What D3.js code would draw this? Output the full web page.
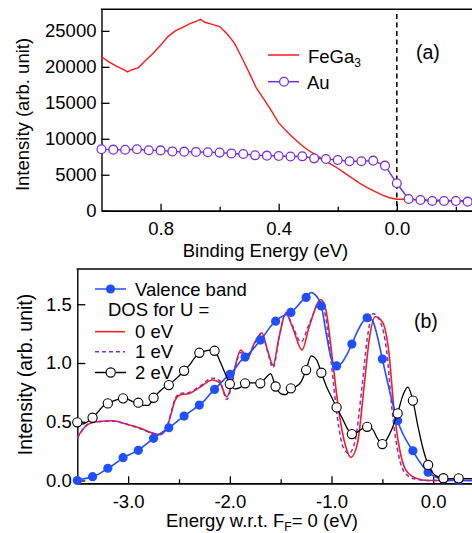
<!DOCTYPE html>
<html>
<head>
<meta charset="utf-8">
<script src="https://cdn.jsdelivr.net/npm/d3@7"></script>
<style>
body { margin: 0; background: #fff; }
svg { display: block; font-family: "Liberation Sans", Arial, sans-serif; }
</style>
</head>
<body>
<svg id="chart"></svg>
<script>
// ---- panel (a): photoemission near E_F ----
var feE = [1.0, 0.975, 0.95, 0.925, 0.912, 0.9, 0.875, 0.85, 0.825, 0.8, 0.775, 0.75, 0.725, 0.7, 0.675, 0.665, 0.65, 0.625, 0.6, 0.575,
           0.55, 0.525, 0.5, 0.475, 0.45, 0.425, 0.4, 0.375, 0.35, 0.325, 0.3, 0.275, 0.25, 0.225, 0.2, 0.175, 0.15, 0.125, 0.1, 0.075,
           0.05, 0.025, 0.0, -0.025, -0.05, -0.1, -0.15, -0.2, -0.25];
var feI = [21400, 20700, 20100, 19600, 19300, 19550, 19900, 20900, 21900, 23000, 24200, 25000, 25500, 26000, 26400, 26600, 26200, 25900, 25600, 24600,
           23300, 21300, 19200, 17000, 15500, 13900, 12200, 11100, 10100, 9200, 8400, 7800, 7100, 6500, 5900, 5200, 4500, 3800, 3200, 2700,
           2200, 1800, 1600, 1600, 1550, 1500, 1450, 1400, 1400];

var auE = [1.0, 0.96, 0.92, 0.88, 0.84, 0.8, 0.76, 0.72, 0.68, 0.64, 0.6, 0.56, 0.52, 0.48, 0.44, 0.4, 0.36, 0.32, 0.28, 0.24,
           0.2, 0.16, 0.12, 0.08, 0.04, 0.0, -0.04, -0.08, -0.12, -0.16, -0.2, -0.24];
var auI = [8540, 8490, 8470, 8540, 8400, 8380, 8240, 8210, 8170, 8120, 8080, 7960, 7890, 7700, 7650, 7610, 7540, 7560, 7280, 7190,
           7050, 6870, 6870, 6960, 6260, 3810, 1630, 1490, 1350, 1350, 1350, 1260];

var aTicks = [0.8, 0.4, 0.0];
var aMinor = [0.6, 0.2, -0.2];
var aYTicks = [0, 5000, 10000, 15000, 20000, 25000];

// ---- panel (b): valence band vs DOS ----
var gridE = [-3.5, -3.45, -3.4, -3.35, -3.3, -3.25, -3.2, -3.15, -3.1, -3.05, -3.0, -2.95, -2.9, -2.85, -2.8, -2.75, -2.7, -2.65, -2.6, -2.55,
             -2.5, -2.45, -2.4, -2.35, -2.3, -2.25, -2.2, -2.15, -2.1, -2.05, -2.0, -1.95, -1.9, -1.85, -1.8, -1.75, -1.7, -1.65, -1.6, -1.55,
             -1.5, -1.45, -1.4, -1.35, -1.3, -1.25, -1.2, -1.15, -1.1, -1.05, -1.0, -0.95, -0.9, -0.85, -0.8, -0.75, -0.7, -0.65, -0.6, -0.55,
             -0.5, -0.45, -0.4, -0.35, -0.3, -0.25, -0.2, -0.15, -0.1, -0.05, 0.0, 0.05, 0.1, 0.15, 0.2, 0.25, 0.3, 0.35, 0.4];
var vbI = [0.0, 0.012, 0.02, 0.032, 0.05, 0.075, 0.104, 0.13, 0.16, 0.194, 0.215, 0.235, 0.257, 0.29, 0.325, 0.359, 0.39, 0.42, 0.449, 0.48,
           0.515, 0.548, 0.58, 0.61, 0.642, 0.68, 0.73, 0.775, 0.82, 0.865, 0.903, 0.95, 1.01, 1.05, 1.09, 1.14, 1.195, 1.25, 1.31, 1.356,
           1.39, 1.41, 1.43, 1.47, 1.52, 1.558, 1.6, 1.57, 1.486, 1.24, 1.03, 0.975, 1.0, 1.07, 1.161, 1.26, 1.34, 1.385, 1.365, 1.23,
           1.033, 0.84, 0.66, 0.509, 0.4, 0.32, 0.253, 0.18, 0.12, 0.07, 0.04, 0.02, 0.01, 0.005, 0.003, 0.002, 0.0, 0.0, 0.0];
var u2I = [0.495, 0.48, 0.5, 0.534, 0.58, 0.63, 0.656, 0.675, 0.69, 0.699, 0.69, 0.67, 0.662, 0.64, 0.64, 0.704, 0.75, 0.79, 0.812, 0.85,
           0.89, 0.934, 0.98, 1.04, 1.087, 1.1, 1.11, 1.104, 1.02, 0.92, 0.821, 0.78, 0.79, 0.827, 0.83, 0.83, 0.827, 0.87, 0.91, 0.8,
           0.74, 0.73, 0.784, 0.8, 0.84, 0.94, 1.06, 1.03, 0.917, 0.8, 0.71, 0.622, 0.54, 0.45, 0.395, 0.41, 0.44, 0.457, 0.44, 0.36,
           0.31, 0.36, 0.45, 0.571, 0.72, 0.795, 0.68, 0.46, 0.27, 0.132, 0.06, 0.03, 0.019, 0.015, 0.015, 0.018, 0.015, 0.015, 0.015];

var u0E = [-3.5, -3.45, -3.4, -3.31, -3.15, -3.02, -2.88, -2.75, -2.69, -2.63, -2.58, -2.54, -2.49, -2.4, -2.3, -2.17, -2.1, -2.03, -1.98, -1.94,
           -1.89, -1.83, -1.76, -1.685, -1.63, -1.575, -1.515, -1.45, -1.385, -1.29, -1.22, -1.105, -1.055, -0.99, -0.925, -0.86, -0.81, -0.745, -0.68, -0.63,
           -0.57, -0.5, -0.435, -0.385, -0.335, -0.27, -0.17, -0.05, 0.4];
var u0I = [0.367, 0.43, 0.475, 0.5, 0.508, 0.48, 0.444, 0.401, 0.393, 0.43, 0.56, 0.68, 0.727, 0.74, 0.79, 0.855, 0.832, 0.713, 0.83, 1.0,
           1.11, 1.04, 1.167, 1.257, 1.11, 0.982, 1.223, 1.422, 1.308, 1.11, 1.308, 1.541, 1.45, 1.025, 0.571, 0.287, 0.197, 0.316, 0.798, 1.195,
           1.393, 1.35, 1.082, 0.6, 0.287, 0.09, 0.02, 0.0, 0.0];

var u1E = [-3.5, -3.45, -3.4, -3.31, -3.15, -3.02, -2.88, -2.75, -2.69, -2.63, -2.58, -2.54, -2.49, -2.4, -2.3, -2.17, -2.1, -2.03, -1.98, -1.94,
           -1.89, -1.83, -1.76, -1.685, -1.63, -1.575, -1.515, -1.45, -1.385, -1.3, -1.22, -1.11, -1.06, -1.0, -0.94, -0.88, -0.83, -0.77, -0.7, -0.65,
           -0.59, -0.52, -0.455, -0.405, -0.355, -0.29, -0.19, -0.06, 0.4];
var u1I = [0.36, 0.43, 0.475, 0.5, 0.505, 0.48, 0.44, 0.4, 0.39, 0.43, 0.57, 0.69, 0.74, 0.75, 0.8, 0.87, 0.85, 0.69, 0.82, 0.99,
           1.09, 1.04, 1.16, 1.25, 1.1, 0.96, 1.22, 1.43, 1.32, 1.18, 1.33, 1.52, 1.4, 0.98, 0.52, 0.27, 0.23, 0.33, 0.8, 1.2,
           1.42, 1.35, 1.08, 0.6, 0.28, 0.08, 0.015, 0.0, 0.0];

var bTicks = [-3.0, -2.0, -1.0, 0.0];
var bMinor = [-2.5, -1.5, -0.5];
var bYTicks = [0, 0.5, 1.0, 1.5];

var width = 472;
var height = 533;
var fontSize = 18.5;

var red = '#ff1a1a';
var purple = '#7a2fdc';
var blue = '#1f4fff';

// plain hyphen for negatives, like the original figure
var fmt1 = (d) => d.toFixed(1);

var svg = d3.select('#chart')
            .attr('width', width)
            .attr('height', height);

var xA = d3.scaleLinear().domain([1.0, -0.28]).range([101.5, 479.5]);
var yA = d3.scaleLinear().domain([0, 28000]).range([210.7, 9.3]);
var xB = d3.scaleLinear().domain([-3.5, 0.46]).range([77.3, 480]);
var yB = d3.scaleLinear().domain([-0.024, 1.8]).range([483.3, 269]);

//axes + frame of one panel
var drawFrame = (x, y, xMajor, xMinor, yMajor, xFormat, yFormat, xPad, yPad) => {
    var left = x.range()[0], right = x.range()[1];
    var bottom = y.range()[0], top = y.range()[1];

    var styleAxis = (g) => {
        g.attr('font-size', fontSize).attr('font-family', null);
        g.select('.domain').attr('stroke-width', 1.4);
        g.selectAll('.tick line').attr('stroke-width', 1.3);
        g.selectAll('.tick text').attr('fill', '#000');
    };

    svg.append('g')
        .attr('transform', 'translate(0,' + bottom + ')')
        .call(d3.axisBottom(x).tickValues(xMajor).tickSize(-7).tickSizeOuter(0).tickPadding(xPad).tickFormat(xFormat))
        .call(styleAxis);

    svg.append('g')
        .attr('transform', 'translate(0,' + bottom + ')')
        .call(d3.axisBottom(x).tickValues(xMinor).tickSize(-4).tickSizeOuter(0).tickFormat(''))
        .call(styleAxis);

    svg.append('g')
        .attr('transform', 'translate(' + left + ',0)')
        .call(d3.axisLeft(y).tickValues(yMajor).tickSize(-8).tickSizeOuter(0).tickPadding(yPad).tickFormat(yFormat))
        .call(styleAxis);

    svg.append('line')
        .attr('x1', left - 0.7).attr('x2', right)
        .attr('y1', top).attr('y2', top)
        .attr('stroke', '#000')
        .attr('stroke-width', 1.6);
};

drawFrame(xA, yA, aTicks, aMinor, aYTicks, fmt1, d3.format('d'), 11, 5);
drawFrame(xB, yB, bTicks, bMinor, bYTicks, fmt1, fmt1, 11.6, 5.6);

// Fermi level marker in (a)
svg.append('line')
    .attr('x1', xA(0)).attr('x2', xA(0))
    .attr('y1', 14).attr('y2', yA(0))
    .attr('stroke', '#000')
    .attr('stroke-width', 1.5)
    .attr('stroke-dasharray', '5,3.5');

//panel (a) curves
var lineA = d3.line()
              .x((d) => xA(d[0]))
              .y((d) => yA(d[1]));

svg.append('path')
    .datum(d3.zip(feE, feI))
    .attr('d', lineA)
    .attr('fill', 'none')
    .attr('stroke', red)
    .attr('stroke-width', 1.4);

svg.append('path')
    .datum(d3.zip(auE, auI))
    .attr('d', lineA)
    .attr('fill', 'none')
    .attr('stroke', purple)
    .attr('stroke-width', 1.4);

svg.append('g')
    .selectAll('circle')
    .data(d3.zip(auE, auI))
    .enter()
    .append('circle')
    .attr('cx', (d) => xA(d[0]))
    .attr('cy', (d) => yA(d[1]))
    .attr('r', 4.4)
    .attr('fill', '#fff')
    .attr('stroke', purple)
    .attr('stroke-width', 1.3);

//panel (b) curves
var lineB = d3.line()
              .curve(d3.curveMonotoneX)
              .x((d) => xB(d[0]))
              .y((d) => yB(d[1]));

svg.append('path')
    .datum(d3.zip(u0E, u0I))
    .attr('d', lineB)
    .attr('fill', 'none')
    .attr('stroke', red)
    .attr('stroke-width', 1.6);

svg.append('path')
    .datum(d3.zip(u1E, u1I))
    .attr('d', lineB)
    .attr('fill', 'none')
    .attr('stroke', purple)
    .attr('stroke-width', 1.5)
    .attr('stroke-dasharray', '4,3');

svg.append('path')
    .datum(d3.zip(gridE, vbI))
    .attr('d', lineB)
    .attr('fill', 'none')
    .attr('stroke', blue)
    .attr('stroke-width', 1.6);

svg.append('g')
    .selectAll('circle')
    .data(d3.zip(gridE, vbI).filter((d, i) => i % 3 === 0 && d[0] < 0.3))
    .enter()
    .append('circle')
    .attr('cx', (d) => xB(d[0]))
    .attr('cy', (d) => yB(d[1]))
    .attr('r', 4.6)
    .attr('fill', blue);

svg.append('path')
    .datum(d3.zip(gridE, u2I))
    .attr('d', lineB)
    .attr('fill', 'none')
    .attr('stroke', '#000')
    .attr('stroke-width', 1.3);

svg.append('g')
    .selectAll('circle')
    .data(d3.zip(gridE, u2I).filter((d, i) => i % 3 === 0 && d[0] < 0.3))
    .enter()
    .append('circle')
    .attr('cx', (d) => xB(d[0]))
    .attr('cy', (d) => yB(d[1]))
    .attr('r', 4.6)
    .attr('fill', '#fff')
    .attr('stroke', '#000')
    .attr('stroke-width', 1.1);

// legends
var legendLine = (x1, x2, y, color, dash) => {
    svg.append('line')
        .attr('x1', x1).attr('x2', x2)
        .attr('y1', y).attr('y2', y)
        .attr('stroke', color)
        .attr('stroke-width', 1.5)
        .attr('stroke-dasharray', dash);
};
var legendText = (x, y, txt) => {
    return svg.append('text')
              .attr('x', x)
              .attr('y', y)
              .attr('font-size', fontSize)
              .text(txt);
};

legendLine(268, 299, 55, red, null);
var feText = legendText(308, 63, 'FeGa');
feText.append('tspan').attr('font-size', 12).attr('dy', 4).text('3');

legendLine(268, 299, 81.7, purple, null);
svg.append('circle').attr('cx', 284).attr('cy', 81.7).attr('r', 4.4)
    .attr('fill', '#fff').attr('stroke', purple).attr('stroke-width', 1.3);
legendText(307, 88.5, 'Au');

legendLine(95, 126, 289, blue, null);
svg.append('circle').attr('cx', 110.5).attr('cy', 289).attr('r', 4.6).attr('fill', blue);
legendText(135, 295.5, 'Valence band');
legendText(108, 315.7, 'DOS for U =');
legendLine(95, 125, 331.7, red, null);
legendText(135, 338, '0 eV');
legendLine(95, 125, 351.7, purple, '4,3');
legendText(135, 357.5, '1 eV');
legendLine(95, 126, 372.5, '#000', null);
svg.append('circle').attr('cx', 110.7).attr('cy', 372.5).attr('r', 4.6)
    .attr('fill', '#fff').attr('stroke', '#000').attr('stroke-width', 1.1);
legendText(135, 378.5, '2 eV');

// panel labels
legendText(416, 59, '(a)').attr('font-size', 19.5);
legendText(414, 328, '(b)').attr('font-size', 19.5);

// axis titles
svg.append('text')
    .attr('transform', 'translate(28.5,114.5) rotate(-90)')
    .attr('text-anchor', 'middle')
    .attr('font-size', fontSize)
    .text('Intensity (arb. unit)');

svg.append('text')
    .attr('transform', 'translate(32,374.5) rotate(-90)')
    .attr('text-anchor', 'middle')
    .attr('font-size', 19.5)
    .text('Intensity (arb. unit)');

svg.append('text')
    .attr('x', 265.5)
    .attr('y', 257)
    .attr('text-anchor', 'middle')
    .attr('font-size', fontSize)
    .text('Binding Energy (eV)');

var xbTitle = svg.append('text')
                 .attr('x', 262)
                 .attr('y', 527)
                 .attr('text-anchor', 'middle')
                 .attr('font-size', fontSize)
                 .text('Energy w.r.t. F');
xbTitle.append('tspan').attr('font-size', 12).attr('dy', 4).text('F');
xbTitle.append('tspan').attr('dy', -4).text('= 0 (eV)');
</script>
</body>
</html>
